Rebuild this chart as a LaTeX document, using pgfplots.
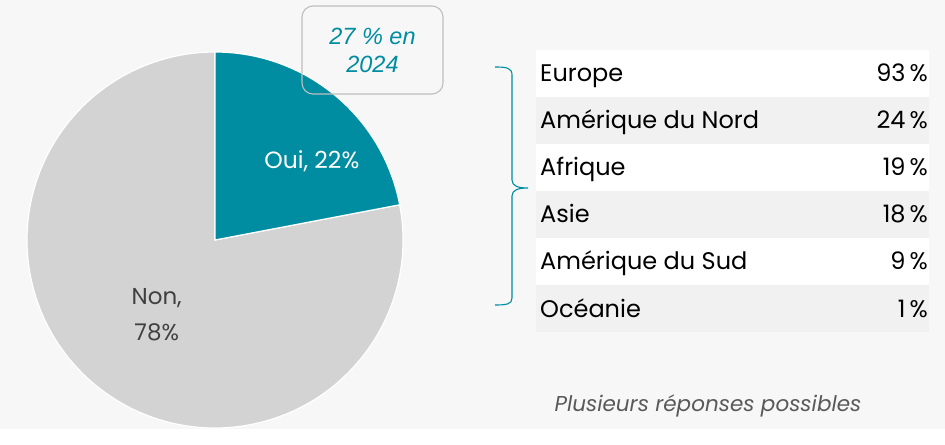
\documentclass[border=0pt]{standalone}
\usepackage{pgfplots}
\pgfplotsset{compat=1.18}
\usepackage{pgfplotstable}
\usepackage{fontspec}
\setmainfont{Poppins}
\newfontfamily\arialf{Liberation Sans}
\definecolor{tealc}{HTML}{008CA1}
\definecolor{piegray}{HTML}{D3D3D3}
\definecolor{bgc}{HTML}{F7F7F7}
\definecolor{rowgray}{HTML}{F1F1F1}
\definecolor{boxgray}{HTML}{BFBFBF}
\definecolor{txtdark}{HTML}{404040}
\definecolor{notegray}{HTML}{595959}

\pgfplotstableread{
label value
Oui 22
Non 78
}\piedata

\begin{document}
\begin{tikzpicture}[x=1pt,y=1pt]
\fill[bgc] (0,0) rectangle (945,-429);

\pgfplotstablegetelem{0}{value}\of\piedata
\edef\vOui{\pgfplotsretval}
\pgfplotstablegetelem{1}{value}\of\piedata
\edef\vNon{\pgfplotsretval}
\pgfmathsetmacro{\aA}{90}
\pgfmathsetmacro{\aB}{90-\vOui*3.6}
\pgfmathsetmacro{\aC}{\aB-\vNon*3.6}

\begin{axis}[
  at={(215pt,-240pt)}, anchor=center,
  width=376pt, height=376pt, scale only axis,
  xmin=-1, xmax=1, ymin=-1, ymax=1,
  hide axis, clip=false]
  \fill[piegray, draw=white, line width=1.2pt]
    (axis cs:0,0) -- (axis cs:{cos(\aB)},{sin(\aB)})
    arc[start angle=\aB, end angle=\aC, radius=188pt] -- cycle;
  \fill[tealc, draw=white, line width=1.2pt]
    (axis cs:0,0) -- (axis cs:{cos(\aA)},{sin(\aA)})
    arc[start angle=\aA, end angle=\aB, radius=188pt] -- cycle;
  \node[white, font=\fontsize{23.5}{28}\selectfont] at (axis cs:0.515,0.42) {Oui, \vOui\%};
  \node[txtdark, font=\fontsize{23}{36}\selectfont, align=center] at (axis cs:-0.31,-0.40) {Non,\\\vNon\%};
\end{axis}

% callout
\draw[boxgray, line width=1.1pt, rounded corners=11pt] (302,-6) rectangle (443,-94);
\node[tealc, font=\arialf\itshape\fontsize{23.5}{28}\selectfont, align=center] at (372.5,-50) {27 \% en\\2024};

% brace
\draw[tealc, line width=1.1pt]
  (495,-67) .. controls (507,-67) and (512,-68) .. (512,-75) -- (512,-180)
  .. controls (512,-186) and (518,-188) .. (528,-188)
  .. controls (518,-188) and (512,-190) .. (512,-196) -- (512,-298)
  .. controls (512,-304) and (507,-305) .. (495,-305);

% table
\foreach \lab/\val [count=\i from 0] in {Europe/93, Amérique du Nord/24, Afrique/19, Asie/18, Amérique du Sud/9, Océanie/1}{
  \pgfmathsetmacro{\yt}{-50-47*\i}
  \pgfmathtruncatemacro{\odd}{mod(\i,2)}
  \ifnum\odd=1 \def\rc{rowgray}\else\def\rc{white}\fi
  \fill[\rc] (536,\yt) rectangle (929,\yt-47);
  \node[anchor=base west, inner sep=0pt, font=\fontsize{24}{28}\selectfont] at (540,\yt-32) {\lab};
  \node[anchor=base east, inner sep=0pt, font=\fontsize{24}{28}\selectfont] at (928,\yt-32) {\val\,\%};
}

\node[notegray, font=\itshape\fontsize{21.5}{25}\selectfont] at (708,-406) {Plusieurs réponses possibles};
\end{tikzpicture}
\end{document}
